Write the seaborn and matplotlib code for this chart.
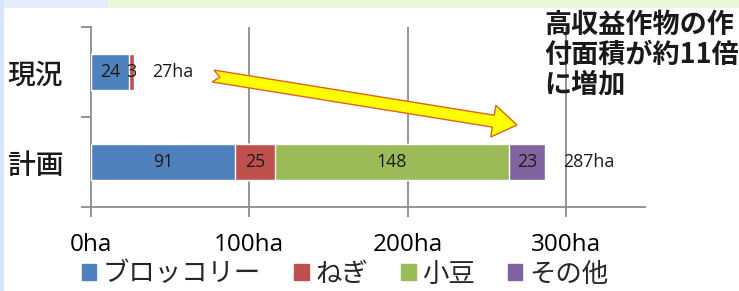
import numpy as np
import pandas as pd
import matplotlib
matplotlib.use("Agg")
import matplotlib.pyplot as plt
import matplotlib.patches as mpatches
import seaborn as sns

# data
categories = ["現況", "計画"]
crops = ["ブロッコリー", "ねぎ", "小豆", "その他"]
broccoli = [24, 91]
negi = [3, 25]
azuki = [0, 148]
other = [0, 23]
colors = ["#4F81BD", "#C0504D", "#9BBB59", "#8064A2"]
xticks = [0, 100, 200, 300]
xtick_labels = ["0ha", "100ha", "200ha", "300ha"]
note_lines = ["高収益作物の作", "付面積が約11倍", "に増加"]

sns.set_theme(style="white")
plt.rcParams["font.family"] = ["Noto Sans CJK JP", "DejaVu Sans"]

df = pd.DataFrame({"cat": categories, crops[0]: broccoli, crops[1]: negi,
                   crops[2]: azuki, crops[3]: other})
cum = df[crops].cumsum(axis=1)
totals = cum[crops[-1]].values

W, H = 739, 291
fig = plt.figure(figsize=(W / 100, H / 100), dpi=100)
fig.patch.set_facecolor("white")
# slide background strips
fig.add_artist(mpatches.Rectangle((0, 1 - 8 / H), 108 / W, 8 / H,
                                  transform=fig.transFigure, color="#e4eefa", lw=0))
fig.add_artist(mpatches.Rectangle((108 / W, 1 - 8 / H), 1, 8 / H,
                                  transform=fig.transFigure, color="#eaf6d6", lw=0))
fig.add_artist(mpatches.Rectangle((0, 0), 4 / W, 1,
                                  transform=fig.transFigure, color="#d6e5f7", lw=0))

ax = fig.add_axes([91 / W, 1 - 207 / H, (645 - 91) / W, 180 / H])
ax.set_facecolor("white")

# stacked bars: draw largest cumulative first
for crop, col in reversed(list(zip(crops, colors))):
    sns.barplot(x=cum[crop].values, y=df["cat"], color=col, orient="h",
                width=0.4, ax=ax, saturation=1, zorder=3)

# segment labels
for i in range(len(categories)):
    left = 0
    for crop in crops:
        v = df.loc[i, crop]
        if v > 0:
            ax.text(left + v / 2, i, str(v), ha="center", va="center",
                    fontsize=12.8, color="#1a1a1a", family="Open Sans", zorder=5)
        left += v
    ax.text(totals[i] + 11.5, i, f"{totals[i]}ha", ha="left", va="center",
            fontsize=12.8, color="#1a1a1a", family="Open Sans", zorder=5)

ax.set_xlim(0, 350)
ax.set_ylim(1.5, -0.5)
ax.set_xticks(xticks)
ax.set_xticklabels(xtick_labels, fontsize=17.5, family="Open Sans")
ax.set_yticks([0, 1])
ax.set_yticklabels(categories, fontsize=20, fontweight="medium")
ax.set_xlabel("")
ax.set_ylabel("")
for x in xticks[1:]:
    ax.axvline(x, color="#8c8c8c", lw=1.3, zorder=1)
for s in ["top", "right"]:
    ax.spines[s].set_visible(False)
for s in ["left", "bottom"]:
    ax.spines[s].set_color("#8c8c8c")
    ax.spines[s].set_linewidth(1.3)
ax.tick_params(axis="x", bottom=True, length=7, width=1.3, color="#8c8c8c",
               pad=12, labelcolor="black")
ax.set_yticks([-0.5, 0.5, 1.5], minor=True)
ax.tick_params(axis="y", which="minor", left=True, length=7, width=1.3, color="#8c8c8c")
ax.tick_params(axis="y", which="major", left=True, length=0, pad=20, labelcolor="#1a1a1a")

# arrow (yellow, notched tail) built in pixel space
S = np.array([213.0, 76.0])
E = np.array([517.0, 125.0])
u = (E - S) / np.linalg.norm(E - S)
n = np.array([-u[1], u[0]])
w, hw, hl, notch = 6.0, 16.0, 24.0, 7.0
B = E - u * hl
pts = np.array([S - n * w, S + u * notch, S + n * w, B + n * w, B + n * hw, E,
                B - n * hw, B - n * w])
pts_fig = np.column_stack([pts[:, 0] / W, 1 - pts[:, 1] / H])
fig.add_artist(mpatches.Polygon(pts_fig, closed=True, transform=fig.transFigure,
                                fc="#ffff00", ec="#e06020", lw=1, zorder=10))

# note text
for k, line in enumerate(note_lines):
    fig.text(544 / W, 1 - (25 + 29.5 * k) / H, line, fontsize=19.5,
             fontweight="bold", ha="left", va="center", color="#1a1a1a")

# legend
handles = [mpatches.Patch(color=c, label=l) for c, l in zip(colors, crops)]
fig.legend(handles=handles, loc="center", bbox_to_anchor=(345 / W, 1 - 274 / H),
           ncol=4, frameon=False, fontsize=19, handlelength=0.55, handleheight=0.55,
           handletextpad=0.25, columnspacing=1.25, borderaxespad=0, borderpad=0)

fig.savefig("out.png", dpi=100, facecolor=fig.get_facecolor())
